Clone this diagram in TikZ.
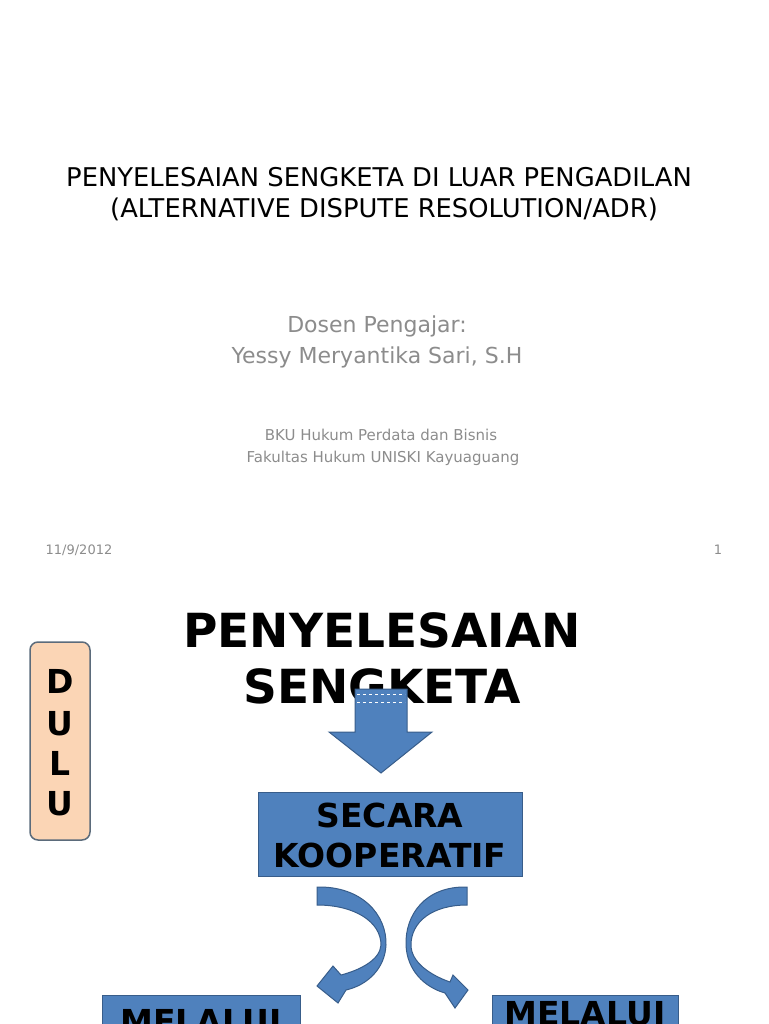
\documentclass[tikz,border=0pt]{standalone}
\usepackage{fontspec}
\setmainfont{DejaVu Sans}
\usepackage{xcolor}
\usetikzlibrary{shapes, arrows, positioning}
\definecolor{slideblue}{HTML}{4F81BD}
\definecolor{slideedge}{HTML}{385D8A}
\definecolor{peach}{HTML}{FBD5B5}
\definecolor{peachedge}{HTML}{5B6B7B}
\definecolor{subgray}{HTML}{8C8C8C}
\begin{document}
\begin{tikzpicture}[x=1pt,y=-1pt]
        \useasboundingbox (0,0) rectangle (768,1024);
        \clip (0,0) rectangle (768,1024);
        \begin{scope}[every node/.style={inner sep=0pt,anchor=base}]
          \node (judul) at (379,187) {\fontsize{25.8}{30}\selectfont PENYELESAIAN SENGKETA DI LUAR PENGADILAN};
          \node (adr) at (384,218) {\fontsize{25.8}{30}\selectfont (ALTERNATIVE DISPUTE RESOLUTION/ADR)};
          \node[subgray] (dosen) at (377,332) {\fontsize{22}{26}\selectfont Dosen Pengajar:};
          \node[subgray] (nama) at (377,363) {\fontsize{22}{26}\selectfont Yessy Meryantika Sari, S.H};
          \node[subgray] (bku) at (381,440) {\fontsize{15}{18}\selectfont BKU Hukum Perdata dan Bisnis};
          \node[subgray] (fak) at (383,462) {\fontsize{15}{18}\selectfont Fakultas Hukum UNISKI Kayuaguang};
          \node[subgray] (tgl) at (79,554) {\fontsize{13}{15}\selectfont 11/9/2012};
          \node[subgray] (hal) at (718,554) {\fontsize{13}{15}\selectfont 1};
        \end{scope}
        \begin{scope}[every node/.style={inner sep=0pt,anchor=base,font=\bfseries}]
          \node (ps1) at (382,647) {\fontsize{47}{56}\selectfont PENYELESAIAN};
          \node (ps2) at (382,703) {\fontsize{47}{56}\selectfont SENGKETA};
        \end{scope}
        % kotak dulu
        \draw[peachedge,fill=peach,line width=1.5pt,rounded corners=8pt] (30,642) rectangle (90,840);
        \begin{scope}[every node/.style={inner sep=0pt,anchor=base,font=\bfseries\fontsize{33}{40}\selectfont}]
          \node (d1) at (60,693) {D};
          \node (d2) at (60,735) {U};
          \node (d3) at (60,775) {L};
          \node (d4) at (60,815) {U};
        \end{scope}
        \begin{scope}[every path/.style={fill=slideblue,draw=slideedge,line width=1pt}]
          \path (355,689) -- (407,689) -- (407,732) -- (432,732) -- (381,773) -- (329,732) -- (355,732) -- cycle;
          \path (258,792) rectangle (522,876);
          \path (102,995) rectangle (300,1040);
          \path (492,995) rectangle (678,1040);
          \path (317,887) .. controls (362,886) and (387,915) .. (386,945)
            .. controls (385,968) and (368,985) .. (346,990) -- (338,1003) -- (317,986)
            -- (333,966) -- (341,975) .. controls (360,970) and (380,960) .. (381,945)
            .. controls (381,922) and (355,905) .. (317,905) -- cycle;
          \path (467,887) .. controls (425,886) and (405,915) .. (406,945)
            .. controls (407,970) and (424,987) .. (445,993) -- (455,1008) -- (468,990)
            -- (453,975) -- (450,982) .. controls (430,975) and (411,962) .. (411,945)
            .. controls (411,922) and (432,905) .. (467,905) -- cycle;
        \end{scope}
        \draw[white,dashed,line width=0.6pt] (357,694) -- (405,694);
        \draw[white,dashed,line width=0.6pt] (357,702) -- (405,702);
        \begin{scope}[every node/.style={inner sep=0pt,anchor=base,font=\bfseries\fontsize{33}{38}\selectfont}]
          \node (sec1) at (390,827) {SECARA};
          \node (sec2) at (390,867) {KOOPERATIF};
          \node (mel1) at (201,1033) {MELALUI};
          \node (mel2) at (585,1025) {MELALUI};
        \end{scope}
      \end{tikzpicture}
\end{document}
